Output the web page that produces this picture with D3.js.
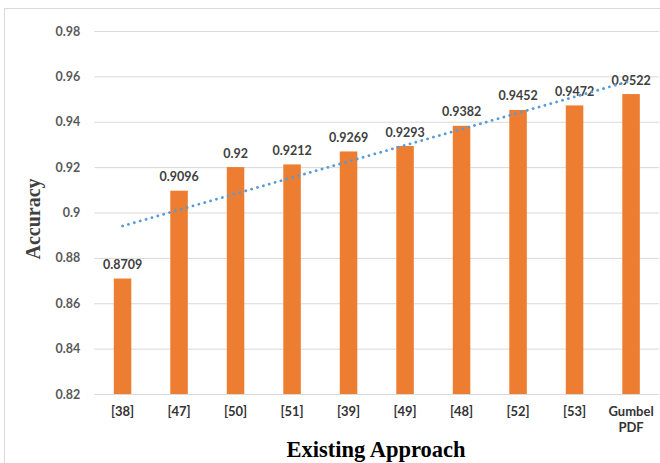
<!DOCTYPE html>
<html>
<head>
<meta charset="utf-8">
<script src="https://cdn.jsdelivr.net/npm/d3@7/dist/d3.min.js"></script>
<style>
  html, body { margin: 0; padding: 0; background: #fff; }
  svg { display: block; }
</style>
</head>
<body>
<svg id="chart" width="660" height="463"></svg>
<script>
// Accuracy of existing approaches vs. the Gumbel PDF method
const categories = ["[38]", "[47]", "[50]", "[51]", "[39]", "[49]", "[48]", "[52]", "[53]", "Gumbel PDF"];
const accuracy = [0.8709, 0.9096, 0.92, 0.9212, 0.9269, 0.9293, 0.9382, 0.9452, 0.9472, 0.9522];
const valueLabels = ["0.8709", "0.9096", "0.92", "0.9212", "0.9269", "0.9293", "0.9382", "0.9452", "0.9472", "0.9522"];
const yTicks = [0.82, 0.84, 0.86, 0.88, 0.9, 0.92, 0.94, 0.96, 0.98];

const svg = d3.select("#chart");
const plot = { left: 94.3, right: 659.3, top: 31, bottom: 394 };

// outer chart frame
svg.append("rect")
  .attr("x", 4.5).attr("y", 8.5)
  .attr("width", 700).attr("height", 500)
  .attr("fill", "#fff").attr("stroke", "#d9d9d9").attr("stroke-width", 1);

const x = d3.scaleBand()
  .domain(categories)
  .range([plot.left, plot.right])
  .paddingInner(0.69)
  .paddingOuter(0.345);

const y = d3.scaleLinear()
  .domain([0.82, 0.98])
  .range([plot.bottom, plot.top]);

const labelFont = "Lato, 'Open Sans', sans-serif";

// horizontal gridlines + y tick labels
const yAxis = d3.axisLeft(y)
  .tickValues(yTicks)
  .tickSize(-(plot.right - plot.left))
  .tickPadding(14)
  .tickFormat(d => String(+d.toFixed(2)));

const gy = svg.append("g")
  .attr("transform", `translate(${plot.left},0)`)
  .call(yAxis);
gy.select(".domain").remove();
gy.selectAll(".tick line").attr("stroke", "#d9d9d9").attr("stroke-width", 1);
gy.selectAll(".tick text")
  .attr("fill", "#595959")
  .attr("font-family", labelFont)
  .attr("font-weight", 700)
  .attr("font-size", 12.5);

// x axis labels (wrap "Gumbel PDF" onto two lines)
const xAxis = d3.axisBottom(x).tickSize(0).tickPadding(0).tickFormat("");
const gx = svg.append("g")
  .attr("transform", `translate(0,${plot.bottom})`)
  .call(xAxis);
gx.select(".domain").remove();
gx.selectAll(".tick").each(function(d) {
  const words = d.split(" ");
  const t = d3.select(this).append("text")
    .attr("fill", "#333")
    .attr("text-anchor", "middle")
    .attr("font-family", labelFont)
    .attr("font-weight", 700)
    .attr("font-size", 13);
  words.forEach((w, i) => {
    t.append("tspan").attr("x", 0).attr("y", 22 + i * 15.5)
      .attr("font-weight", 700).text(w);
  });
});

// bars
svg.append("g").selectAll("rect")
  .data(accuracy)
  .join("rect")
  .attr("x", (d, i) => x(categories[i]))
  .attr("y", d => y(d))
  .attr("width", x.bandwidth())
  .attr("height", d => y(0.82) - y(d))
  .attr("fill", "#ed7d31");

// value labels above bars
svg.append("g").selectAll("text")
  .data(accuracy)
  .join("text")
  .attr("x", (d, i) => x(categories[i]) + x.bandwidth() / 2)
  .attr("y", d => y(d) - 9.5)
  .attr("text-anchor", "middle")
  .attr("fill", "#404040")
  .attr("font-family", labelFont)
  .attr("font-weight", 700)
  .attr("font-size", 12.5)
  .text((d, i) => valueLabels[i]);

// linear trendline (least squares over category index)
const n = accuracy.length;
const xs = d3.range(1, n + 1);
const mx = d3.mean(xs), my = d3.mean(accuracy);
const slope = d3.sum(xs, (v, i) => (v - mx) * (accuracy[i] - my)) / d3.sum(xs, v => (v - mx) ** 2);
const intercept = my - slope * mx;
const trend = categories.map((c, i) => [x(c) + x.bandwidth() / 2, y(intercept + slope * (i + 1))]);

svg.append("path")
  .attr("d", d3.line()([trend[0], trend[n - 1]]))
  .attr("fill", "none")
  .attr("stroke", "#5b9bd5")
  .attr("stroke-width", 2.8)
  .attr("stroke-linecap", "round")
  .attr("stroke-dasharray", "0.1 6");

// axis titles
svg.append("text")
  .attr("x", 376).attr("y", 457)
  .attr("text-anchor", "middle")
  .attr("fill", "#000")
  .attr("font-family", "'Liberation Serif', 'Times New Roman', serif")
  .attr("font-weight", 700)
  .attr("font-size", 22.5)
  .text("Existing Approach");

svg.append("text")
  .attr("transform", "translate(40,219) rotate(-90)")
  .attr("text-anchor", "middle")
  .attr("fill", "#404040")
  .attr("font-family", "'Liberation Serif', 'Times New Roman', serif")
  .attr("font-weight", 700)
  .attr("font-size", 20)
  .text("Accuracy");
</script>
</body>
</html>
